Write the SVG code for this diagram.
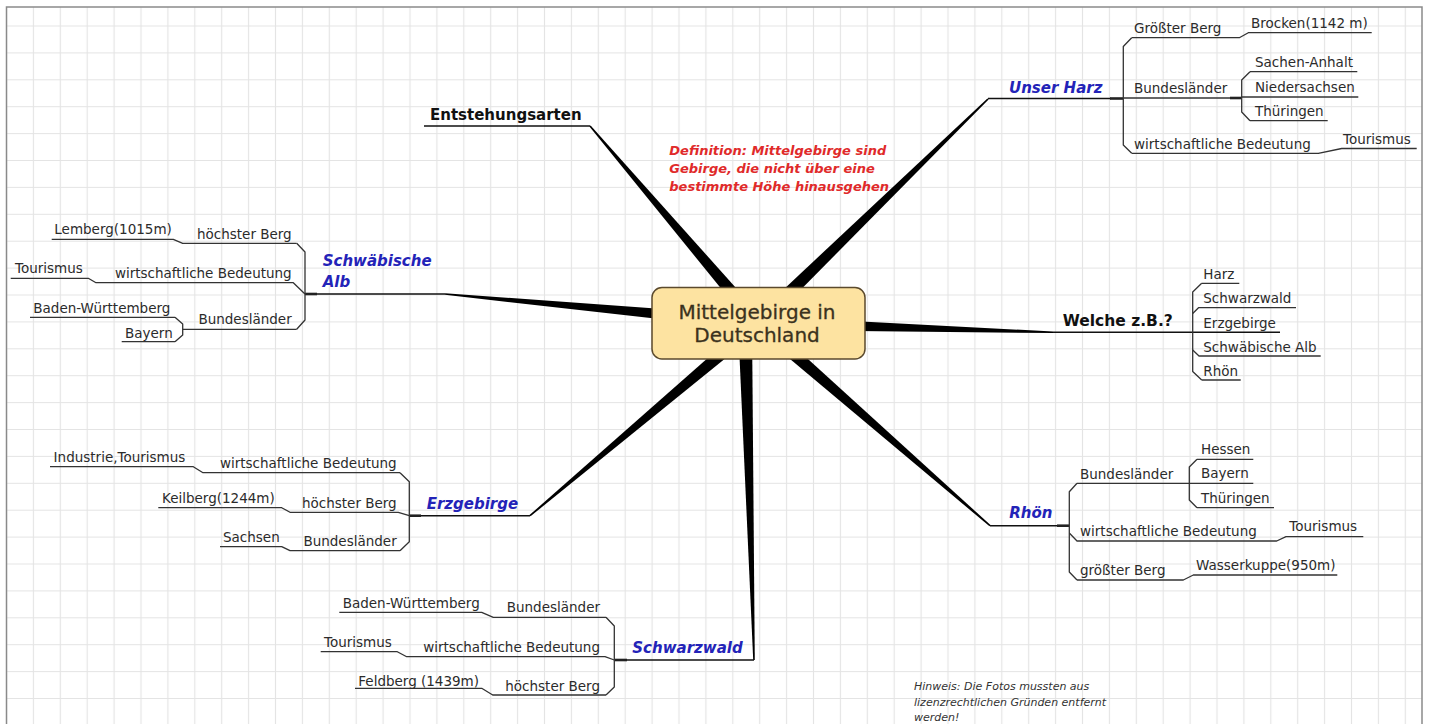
<svg xmlns="http://www.w3.org/2000/svg" width="1429" height="724" viewBox="0 0 1429 724">
<defs>
<pattern id="grid" x="-6.95" y="12.55" width="26.9" height="26.9" patternUnits="userSpaceOnUse">
<path d="M13.45,0 V26.9 M0,13.45 H26.9" stroke="#e4e4e4" stroke-width="1.2" fill="none"/>
</pattern>
<style>
.ln{fill:none;stroke:#333;stroke-width:1.3;stroke-linejoin:round}
.mn{fill:none;stroke:#111;stroke-width:1.6}
.jn{fill:none;stroke:#222;stroke-width:2.6}
.wg{fill:#000}
.t{font-family:"DejaVu Sans",sans-serif;font-size:13.5px;fill:#2b2b2b}
.e{text-anchor:end}
.tb{font-family:"DejaVu Sans",sans-serif;font-size:15px;font-weight:bold;font-style:italic;fill:#2323b8}
.th{font-family:"DejaVu Sans",sans-serif;font-size:15px;font-weight:bold;fill:#111}
.def{font-family:"DejaVu Sans",sans-serif;font-size:13px;font-weight:bold;font-style:italic;fill:#e02a2a}
.hint{font-family:"DejaVu Sans",sans-serif;font-size:11px;font-style:italic;fill:#333}
.ctr{font-family:"DejaVu Sans",sans-serif;font-size:20px;fill:#3b321d;text-anchor:middle;stroke:#3b321d;stroke-width:0.3}
</style>
</defs>
<rect x="0" y="0" width="1429" height="724" fill="#fff"/>
<rect x="6.5" y="7" width="1415.5" height="717" fill="url(#grid)"/>
<path d="M6.5,724 V7 H1422 V724" fill="none" stroke="#8a8a8a" stroke-width="1.5"/>

<g id="connectors">
<polygon class="wg" points="763.3,318.5 590.6,125.5 589.4,126.5 752.7,327.5"/>
<polygon class="wg" points="762.9,328 988.6,99.6 987.4,98.4 753.1,318"/>
<polygon class="wg" points="757.8,330 1053,333.1 1053,331.5 758.2,316"/>
<polygon class="wg" points="753.4,328.3 989.5,526.3 990.5,525.1 762.6,317.7"/>
<polygon class="wg" points="738,323.2 753.2,660 754.8,660 752,322.8"/>
<polygon class="wg" points="753.5,317.65 529.5,515.1 530.5,516.3 762.5,328.35"/>
<polygon class="wg" points="758.7,316 445.1,293.2 444.9,294.8 757.4,330"/>

<path class="mn" d="M424,126 H590"/>

<path class="mn" d="M988,98.5 H1111"/>
<path class="jn" d="M1110,98.5 H1123.3"/>
<path class="ln" d="M1131.7,37.7 L1123.3,46.5 V145 L1131.7,153.3"/>
<path class="ln" d="M1131.7,37.7 H1239.3 L1248.3,32.7 H1371.7"/>
<path class="ln" d="M1123.3,98 H1230"/>
<path class="jn" d="M1230,98 H1241.7"/>
<path class="ln" d="M1250,71.7 L1241.7,80 V112 L1250,120.7"/>
<path class="ln" d="M1250,71.7 H1357.3"/>
<path class="ln" d="M1241.7,97 H1358.3"/>
<path class="ln" d="M1250,120.7 H1327.7"/>
<path class="ln" d="M1131.7,153.3 H1318.3 L1341.7,148.5 H1416.7"/>

<path class="mn" d="M1053,332.3 H1280"/>
<path class="ln" d="M1201.7,283.3 L1192.7,292 V371.5 L1201.7,380"/>
<path class="ln" d="M1201.7,283.3 H1239.3"/>
<path class="ln" d="M1192.7,313.5 L1198.5,307.7 H1296"/>
<path class="ln" d="M1192.7,350 L1199,356 H1320.7"/>
<path class="ln" d="M1201.7,380 H1240.7"/>

<path class="mn" d="M445,294 H317"/>
<path class="jn" d="M317,294 H305"/>
<path class="ln" d="M296.7,243.3 L305,252 V320 L296.7,329.3"/>
<path class="ln" d="M296.7,243.3 H182.7 L173.3,239.3 H51.7"/>
<path class="ln" d="M305,294 L293.3,282.7 H96 L88.3,278.3 H10.7"/>
<path class="ln" d="M296.7,329.3 H182.7"/>
<path class="ln" d="M175,317.3 L182.7,324 V335 L175,341.7"/>
<path class="ln" d="M175,317.3 H30"/>
<path class="ln" d="M175,341.7 H121.7"/>

<path class="mn" d="M530,515.7 H421"/>
<path class="jn" d="M421,515.7 H409.3"/>
<path class="ln" d="M400,472.7 L409.3,481.7 V541.7 L400,550.7"/>
<path class="ln" d="M400,472.7 H203 L193.3,466.7 H50"/>
<path class="ln" d="M409.3,515.7 L398.3,512.3 H290 L281.7,507.7 H158.3"/>
<path class="ln" d="M400,550.7 H290 L281.7,546.7 H220"/>

<path class="mn" d="M754,660 H627"/>
<path class="jn" d="M627,660 H614.3"/>
<path class="ln" d="M606,617.3 L614.3,626 V687 L606,695"/>
<path class="ln" d="M606,617.3 H493.3 L481.7,612.3 H339.3"/>
<path class="ln" d="M614.3,660 L605,656.7 H406.7 L397.3,651.7 H320.7"/>
<path class="ln" d="M606,695 H492.7 L481.7,688.3 H355"/>

<path class="mn" d="M990,525.7 H1057"/>
<path class="jn" d="M1057,525.7 H1069.3"/>
<path class="ln" d="M1077,483.3 L1069.3,491.7 V572 L1077,580"/>
<path class="ln" d="M1077,483.3 H1190"/>
<path class="ln" d="M1197,459.3 L1189.3,467 V500 L1197,507.7"/>
<path class="ln" d="M1197,459.3 H1253.3"/>
<path class="ln" d="M1189.3,483.3 H1253.3"/>
<path class="ln" d="M1197,507.7 H1274"/>
<path class="ln" d="M1069.3,533 L1077,541 H1276.7 L1286,536.7 H1363.3"/>
<path class="ln" d="M1077,580 H1183.3 L1193.3,575 H1337.3"/>
</g>

<g id="center">
<rect x="652" y="287.5" width="213" height="71.5" rx="10" ry="10" fill="#fde3a1" stroke="#5b4a2d" stroke-width="1.5"/>
<text class="ctr" x="757" y="318.5">Mittelgebirge in</text>
<text class="ctr" x="757" y="342">Deutschland</text>
</g>

<g id="entstehungsarten"><text class="th" x="430" y="119.5">Entstehungsarten</text></g>
<g id="definition"><text class="def" x="669.3" y="155">Definition: Mittelgebirge sind<tspan x="669.3" y="173">Gebirge, die nicht über eine</tspan><tspan x="669.3" y="191">bestimmte Höhe hinausgehen</tspan></text></g>
<g id="hinweis"><text class="hint" x="914" y="690">Hinweis: Die Fotos mussten aus<tspan x="914" y="705.5">lizenzrechtlichen Gründen entfernt</tspan><tspan x="914" y="721">werden!</tspan></text></g>

<g id="harz"><text class="tb" x="1009" y="93">Unser Harz</text></g>
<g id="harz-berg"><text class="t" x="1134" y="33">Größter Berg</text></g>
<g id="harz-brocken"><text class="t" x="1251" y="28">Brocken(1142 m)</text></g>
<g id="harz-laender"><text class="t" x="1134" y="92.5">Bundesländer</text></g>
<g id="harz-sa"><text class="t" x="1255" y="67">Sachen-Anhalt</text></g>
<g id="harz-ns"><text class="t" x="1255" y="92">Niedersachsen</text></g>
<g id="harz-th"><text class="t" x="1255" y="115.5">Thüringen</text></g>
<g id="harz-wirt"><text class="t" x="1134" y="148.5">wirtschaftliche Bedeutung</text></g>
<g id="harz-tour"><text class="t" x="1343" y="143.5">Tourismus</text></g>

<g id="welche"><text class="th" x="1062.7" y="325.7" style="font-size:15.5px">Welche z.B.?</text></g>
<g id="w-harz"><text class="t" x="1203.3" y="279">Harz</text></g>
<g id="w-schwarzwald"><text class="t" x="1203.3" y="303.3">Schwarzwald</text></g>
<g id="w-erz"><text class="t" x="1203.3" y="327.7">Erzgebirge</text></g>
<g id="w-alb"><text class="t" x="1203.3" y="351.5">Schwäbische Alb</text></g>
<g id="w-rhoen"><text class="t" x="1203.3" y="375.5">Rhön</text></g>

<g id="alb"><text class="tb" x="322.7" y="266">Schwäbische<tspan x="322.7" y="287.3">Alb</tspan></text></g>
<g id="alb-berg"><text class="t e" x="291.7" y="239.3">höchster Berg</text></g>
<g id="alb-lemberg"><text class="t" x="54.3" y="234">Lemberg(1015m)</text></g>
<g id="alb-wirt"><text class="t e" x="291.7" y="277.5">wirtschaftliche Bedeutung</text></g>
<g id="alb-tour"><text class="t" x="15" y="273.3">Tourismus</text></g>
<g id="alb-laender"><text class="t e" x="291.7" y="324.3">Bundesländer</text></g>
<g id="alb-bw"><text class="t" x="33.3" y="313.3">Baden-Württemberg</text></g>
<g id="alb-by"><text class="t" x="125" y="337.7">Bayern</text></g>

<g id="erz"><text class="tb" x="426.7" y="508.5">Erzgebirge</text></g>
<g id="erz-wirt"><text class="t e" x="396.7" y="468">wirtschaftliche Bedeutung</text></g>
<g id="erz-ind"><text class="t" x="53.6" y="462">Industrie,Tourismus</text></g>
<g id="erz-berg"><text class="t e" x="396.7" y="508">höchster Berg</text></g>
<g id="erz-keil"><text class="t" x="162" y="503.3">Keilberg(1244m)</text></g>
<g id="erz-laender"><text class="t e" x="396.7" y="546">Bundesländer</text></g>
<g id="erz-sachsen"><text class="t" x="223" y="541.7">Sachsen</text></g>

<g id="schwarzwald"><text class="tb" x="632.3" y="652.7">Schwarzwald</text></g>
<g id="sw-laender"><text class="t e" x="600" y="611.7">Bundesländer</text></g>
<g id="sw-bw"><text class="t" x="342.7" y="608.3">Baden-Württemberg</text></g>
<g id="sw-wirt"><text class="t e" x="600" y="651.7">wirtschaftliche Bedeutung</text></g>
<g id="sw-tour"><text class="t" x="324" y="646.7">Tourismus</text></g>
<g id="sw-berg"><text class="t e" x="600" y="690.7">höchster Berg</text></g>
<g id="sw-feld"><text class="t" x="358.3" y="686">Feldberg (1439m)</text></g>

<g id="rhoen"><text class="tb" x="1009.3" y="518.3">Rhön</text></g>
<g id="rh-laender"><text class="t" x="1080" y="479.3">Bundesländer</text></g>
<g id="rh-hessen"><text class="t" x="1201" y="454">Hessen</text></g>
<g id="rh-bayern"><text class="t" x="1201" y="478.3">Bayern</text></g>
<g id="rh-th"><text class="t" x="1201" y="502.7">Thüringen</text></g>
<g id="rh-wirt"><text class="t" x="1080" y="536">wirtschaftliche Bedeutung</text></g>
<g id="rh-tour"><text class="t" x="1289.3" y="531">Tourismus</text></g>
<g id="rh-berg"><text class="t" x="1080" y="574.5">größter Berg</text></g>
<g id="rh-wasser"><text class="t" x="1196" y="570">Wasserkuppe(950m)</text></g>
</svg>
